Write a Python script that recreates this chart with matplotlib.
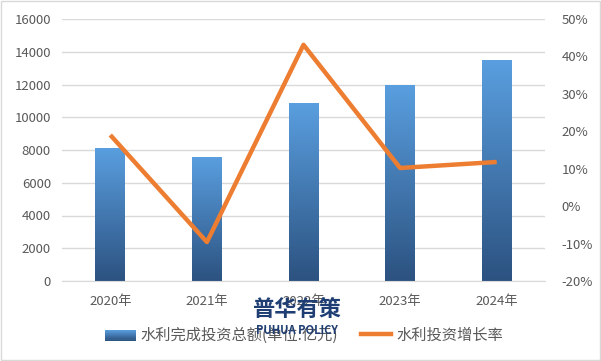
import matplotlib
matplotlib.use('Agg')
import matplotlib.pyplot as plt
import numpy as np
from matplotlib.patches import Rectangle
from matplotlib.legend_handler import HandlerBase
from matplotlib.lines import Line2D

plt.rcParams['font.family'] = ['Noto Sans CJK SC', 'DejaVu Sans']

years = ['2020年', '2021年', '2022年', '2023年', '2024年']
invest = [8150, 7580, 10880, 11970, 13500]        # 亿元
growth = [19.0, -9.6, 43.1, 10.2, 11.8]            # %
bar_label = '水利完成投资总额(单位:亿元)'
line_label = '水利投资增长率'

top_blue = np.array([0x5A, 0x9F, 0xE0]) / 255.0
bot_blue = np.array([0x2C, 0x52, 0x80]) / 255.0
orange = '#ED7D31'
gray = '#595959'

fig = plt.figure(figsize=(6.01, 3.61), dpi=100)
ax = fig.add_axes([62/601, 1 - 281/361, 483/601, 262/361])
ax2 = ax.twinx()

x = np.arange(len(years))
bars = ax.bar(x, invest, width=0.31, color='none', zorder=2)

# vertical gradient inside each bar
grad = np.linspace(0, 1, 256).reshape(-1, 1)
cols = bot_blue + (top_blue - bot_blue) * grad
img = cols.reshape(256, 1, 3)
for b in bars:
    x0, y0, w, h = b.get_x(), b.get_y(), b.get_width(), b.get_height()
    im = ax.imshow(img, extent=[x0, x0 + w, y0, y0 + h], origin='lower',
                   aspect='auto', zorder=2)
    im.set_clip_path(b)

ax.set_xlim(-0.5, len(years) - 0.5)
ax.set_ylim(0, 16000)
ax.set_yticks(np.arange(0, 16001, 2000))
ax.yaxis.grid(True, color='#D9D9D9', linewidth=1)
ax.set_axisbelow(True)
ax.set_xticks(x)
ax.set_xticklabels(years)
ax.tick_params(axis='both', length=0, colors=gray, labelsize=9.5)
ax.tick_params(axis='x', pad=10)
ax.tick_params(axis='y', pad=8)
for s in ax.spines.values():
    s.set_visible(False)
ax.spines['bottom'].set_visible(True)
ax.spines['bottom'].set_color('#D9D9D9')

ax2.plot(x, growth, color=orange, linewidth=3.2, solid_capstyle='butt', zorder=3)
ax2.set_ylim(-20, 50)
ax2.set_yticks(np.arange(-20, 51, 10))
ax2.set_yticklabels([f'{v}%' for v in range(-20, 51, 10)])
ax2.tick_params(axis='y', length=0, colors=gray, labelsize=9.5, pad=12)
for s in ax2.spines.values():
    s.set_visible(False)
ax.set_zorder(1)
ax2.set_zorder(2)
ax2.patch.set_visible(False)


class GradHandler(HandlerBase):
    def create_artists(self, legend, orig, xd, yd, width, height, fontsize, trans):
        arts = []
        n = 10
        for i in range(n):
            c = bot_blue + (top_blue - bot_blue) * (i + 0.5) / n
            r = Rectangle((xd, yd + height * i / n - height * 0.1), width, height * 1.2 / n,
                          facecolor=c, edgecolor='none', transform=trans)
            arts.append(r)
        return arts


handles = [Rectangle((0, 0), 1, 1), Line2D([0], [0], color=orange, linewidth=3.2)]
leg = fig.legend(handles, [bar_label, line_label], loc='center',
                 bbox_to_anchor=(304/601, 1 - 335/361), ncol=2, frameon=False,
                 fontsize=11, handlelength=2.0, handletextpad=0.3, columnspacing=1.5,
                 handler_map={Rectangle: GradHandler()})
for t in leg.get_texts():
    t.set_color(gray)

# watermark
fig.text(297/601, 1 - 309/361, '普华有策', ha='center', va='center', fontsize=16,
         fontweight='bold', color='#1F3E73', zorder=10)
fig.text(297/601, 1 - 331/361, 'PUHUA POLICY', ha='center', va='center', fontsize=8,
         fontweight='bold', color='#1F3E73', zorder=10)

fig.patches.append(Rectangle((0.002, 0.003), 0.996, 0.994, transform=fig.transFigure,
                             fill=False, edgecolor='#D9D9D9', linewidth=1))

fig.savefig('out.png', dpi=100, facecolor='white')
